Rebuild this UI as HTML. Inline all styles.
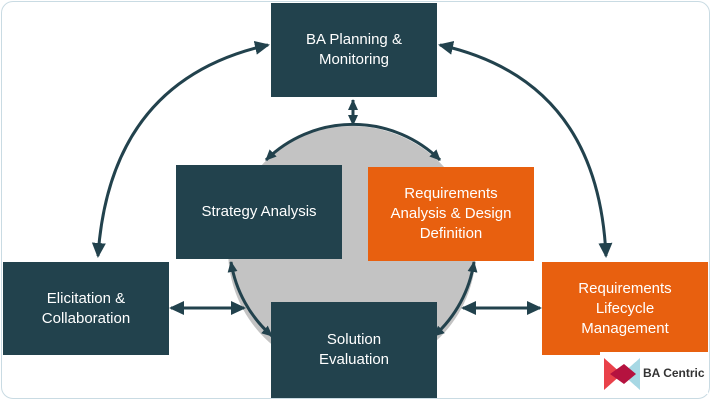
<!DOCTYPE html>
<html><head><meta charset="utf-8"><style>
body{margin:0;width:713px;height:402px;background:#fff;overflow:hidden;font-family:"Liberation Sans",sans-serif}
.frame{position:absolute;left:1px;top:1px;width:707px;height:396px;border:1.5px solid #c9dbe3;border-radius:12px}
.b{position:absolute;display:flex;align-items:center;justify-content:center;text-align:center;color:#fff;font-size:15px;line-height:20px;background:#22424d}
.o{background:#e8600f}
</style></head><body>
<div class="frame"></div>
<svg width="713" height="402" style="position:absolute;left:0;top:0">
<defs><marker id="a" markerWidth="16" markerHeight="16" refX="13" refY="8" orient="auto-start-reverse" markerUnits="userSpaceOnUse"><path d="M0,1 L15,8 L0,15 z" fill="#22424d"/></marker>
<marker id="s" markerWidth="12" markerHeight="12" refX="10" refY="6" orient="auto-start-reverse" markerUnits="userSpaceOnUse"><path d="M0,1 L11,6 L0,11 z" fill="#22424d"/></marker></defs>
<circle cx="352" cy="250" r="124" fill="#c3c3c3"/>
<path d="M266,160 A124,124 0 0 1 440,160" fill="none" stroke="#22424d" stroke-width="3" marker-start="url(#s)" marker-end="url(#s)"/>
<path d="M231,262 A124,124 0 0 0 272,336" fill="none" stroke="#22424d" stroke-width="3" marker-start="url(#s)" marker-end="url(#s)"/>
<path d="M474,262 A124,124 0 0 1 434,336" fill="none" stroke="#22424d" stroke-width="3" marker-start="url(#s)" marker-end="url(#s)"/>
<path d="M268,45 Q110,80 98,256" fill="none" stroke="#22424d" stroke-width="3" marker-start="url(#a)" marker-end="url(#a)"/>
<path d="M440,45 Q598,80 606,256" fill="none" stroke="#22424d" stroke-width="3" marker-start="url(#a)" marker-end="url(#a)"/>
<line x1="353" y1="100" x2="353" y2="125" stroke="#22424d" stroke-width="3" marker-start="url(#s)" marker-end="url(#s)"/>
<line x1="171" y1="308" x2="244" y2="308" stroke="#22424d" stroke-width="3" marker-start="url(#a)" marker-end="url(#a)"/>
<line x1="463" y1="308" x2="540" y2="308" stroke="#22424d" stroke-width="3" marker-start="url(#a)" marker-end="url(#a)"/>
</svg>
<div class="b" style="left:271px;top:3px;width:166px;height:94px">BA Planning &amp;<br>Monitoring</div>
<div class="b" style="left:176px;top:165px;width:166px;height:94px">Strategy Analysis</div>
<div class="b o" style="left:368px;top:167px;width:166px;height:94px">Requirements<br>Analysis &amp; Design<br>Definition</div>
<div class="b" style="left:3px;top:262px;width:166px;height:93px">Elicitation &amp;<br>Collaboration</div>
<div class="b" style="left:271px;top:302px;width:166px;height:96px">Solution<br>Evaluation</div>
<div class="b o" style="left:542px;top:262px;width:166px;height:93px">Requirements<br>Lifecycle<br>Management</div>
<div style="position:absolute;left:600px;top:352px;width:108px;height:42px;background:#fff">
<svg width="40" height="40" style="position:absolute;left:2px;top:2px"><path d="M2,4 L20,20 L2,36z" fill="#e9414a"/><path d="M38,4 L20,20 L38,36z" fill="#a7d8e4"/><path d="M8,20 L22,10 L34,20 L22,30z" fill="#b5123f"/></svg>
<div style="position:absolute;left:43px;top:14px;font-size:12px;color:#333;font-weight:bold;white-space:nowrap">BA Centric</div>
</div>
</body></html>
